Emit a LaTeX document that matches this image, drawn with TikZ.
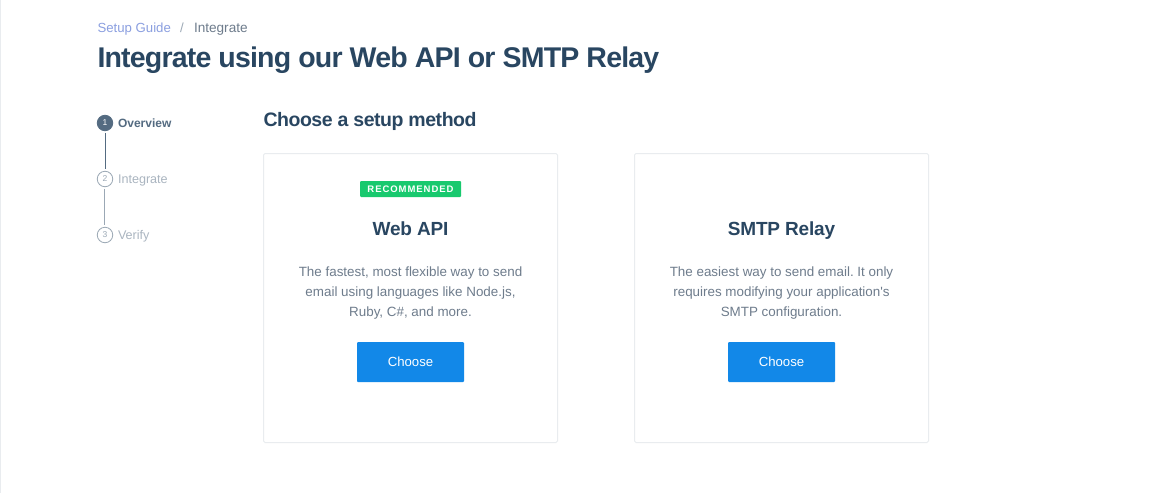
\documentclass[tikz,border=0pt]{standalone}
\usepackage{fontspec}
\setmainfont{Liberation Sans}
\definecolor{navy}{HTML}{294661}
\definecolor{slatec}{HTML}{546B81}
\definecolor{faint}{HTML}{9BA8B5}
\definecolor{bodyc}{HTML}{6E7C8C}
\definecolor{linkc}{HTML}{8B9FE0}
\definecolor{edge}{HTML}{E9ECEF}
\definecolor{blue}{HTML}{1288E8}
\definecolor{green}{HTML}{18C96E}
\tikzset{
  txt/.style={inner sep=0pt,outer sep=0pt},
  card/.style={draw=edge,line width=1pt,fill=white,rounded corners=1.5pt,minimum width=294pt,minimum height=289pt,inner sep=0pt,outer sep=0pt},
  btn/.style={fill=blue,rounded corners=1pt,minimum width=107pt,minimum height=40pt,inner sep=0pt,outer sep=0pt},
  btnlab/.style={txt,anchor=base,text=white,font=\fontsize{13.2}{15}\selectfont},
  desc/.style={txt,anchor=base,text=bodyc,font=\fontsize{13.4}{15}\selectfont\frenchspacing},
  cardtitle/.style={txt,anchor=base,text=navy,font=\fontsize{19}{22}\selectfont\bfseries\addfontfeature{LetterSpace=-1}},
  stepdone/.style={circle,fill=slatec,draw=slatec,line width=.8pt,minimum size=15.5pt,inner sep=0pt,outer sep=0pt,text=white,font=\fontsize{8.5}{9}\selectfont},
  stepnext/.style={circle,fill=white,draw=faint,line width=.8pt,minimum size=15.5pt,inner sep=0pt,outer sep=0pt,text=faint,font=\fontsize{8.5}{9}\selectfont},
  steplab/.style={txt,anchor=base west,font=\fontsize{12.6}{13}\selectfont},
  stepline/.style={line width=1pt,shorten >=2pt,shorten <=2pt}
}
\begin{document}
\begin{tikzpicture}[x=1pt,y=-1pt]
\useasboundingbox (0,0) rectangle (1156,493);
\fill[white] (0,0) rectangle (1156,493);
\coordinate (edgetop) at (0.5,0);
\coordinate (edgebot) at (0.5,493);
\draw[edge,line width=1pt] (edgetop) -- (edgebot);
\node[txt,anchor=base west,text=linkc,font=\fontsize{13.2}{15}\selectfont] (crumb) at (97.5,32) {Setup Guide};
\node[txt,anchor=base west,text=faint,font=\fontsize{13.2}{15}\selectfont] (sep) at (180,32) {/};
\node[txt,anchor=base west,text=bodyc,font=\fontsize{13.6}{15}\selectfont] (crumb2) at (194,32) {Integrate};
\node[txt,anchor=base west,text=navy,font=\fontsize{28.5}{32}\selectfont\bfseries\addfontfeature{LetterSpace=-2.85}] (title) at (97.5,67) {Integrate using our Web API or SMTP Relay};
\node[stepdone] (s1) at (105,123) {1};
\node[stepnext] (s2) at (105,179) {2};
\node[stepnext] (s3) at (105,235) {3};
\draw[slatec,stepline] ([xshift=.5pt]s1.south) -- ([xshift=.5pt]s2.north);
\draw[faint,stepline] ([xshift=-.5pt]s2.south) -- ([xshift=-.5pt]s3.north);
\node[steplab,text=slatec,font=\fontsize{12}{13}\selectfont\bfseries] (l1) at (118,127) {Overview};
\node[steplab,text=faint!85] (l2) at (118,183) {Integrate};
\node[steplab,text=faint!85] (l3) at (118,239) {Verify};
\node[txt,anchor=base west,text=navy,font=\fontsize{19.5}{22}\selectfont\bfseries\addfontfeature{LetterSpace=-2.4}] (choose) at (263.5,126) {Choose a setup method};
\node[card,anchor=north west] (c1) at (263.5,153.5) {};
\node[card,anchor=north west] (c2) at (634.5,153.5) {};
\node[fill=green,rounded corners=1pt,minimum width=101pt,minimum height=16pt,inner sep=0pt,outer sep=0pt] (badge) at (410.5,189) {};
\node[txt,anchor=base,text=white,font=\fontsize{9.5}{11}\selectfont\bfseries] (badgelab) at (410.5,192.5) {\addfontfeature{LetterSpace=10}RECOMMENDED};
\node[cardtitle] (t1) at (410.5,235) {Web API};
\node[cardtitle] (t2) at (781.5,235) {SMTP Relay};
\node[desc] (d1a) at (410.5,276.5) {The fastest, most flexible way to send};
\node[desc] (d1b) at (410.5,296.5) {email using languages like Node.js,};
\node[desc] (d1c) at (410.5,316.5) {Ruby, C\#, and more.};
\node[desc] (d2a) at (781.5,276.5) {The easiest way to send email. It only};
\node[desc] (d2b) at (781.5,296.5) {requires modifying your application\textquotesingle s};
\node[desc] (d2c) at (781.5,316.5) {SMTP configuration.};
\node[btn] (b1) at (410.5,362) {};
\node[btn] (b2) at (781.5,362) {};
\node[btnlab] (b1l) at (410.5,366.5) {Choose};
\node[btnlab] (b2l) at (781.5,366.5) {Choose};
\end{tikzpicture}
\end{document}
